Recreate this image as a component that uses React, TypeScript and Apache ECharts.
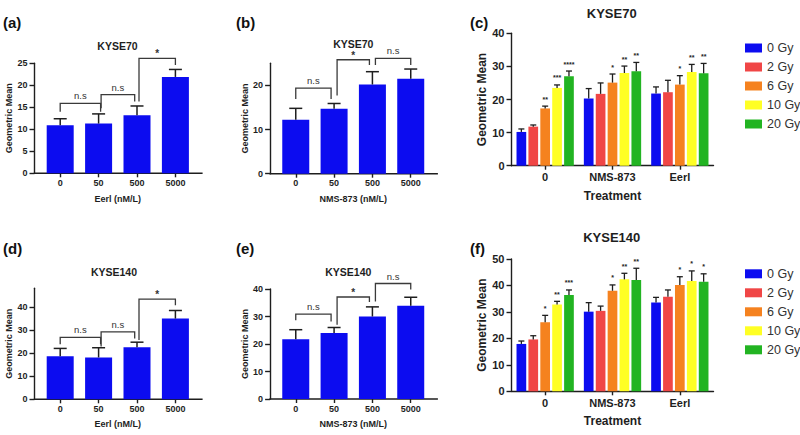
import React, { useEffect, useRef } from "react";
import * as echarts from "echarts";

// ---------- data ----------
const doseCats = ["0", "50", "500", "5000"];
const treatCats = ["0", "NMS-873", "Eerl"];
const doseNames = ["0 Gy", "2 Gy", "6 Gy", "10 Gy", "20 Gy"];

// (a) KYSE70, Eerl
const aMeans = [10.9, 11.3, 13.2, 21.9];
const aErrTops = [12.4, 13.5, 15.3, 23.6];
// brackets: [fromCat, toCat, topValue, leftLegBottom, rightLegBottom]
const aBrackets = [[0, 1, 15.9, 14.0, 14.0], [1, 2, 17.9, 14.8, 16.3], [2, 3, 26.1, 16.3, 24.6]];
const aSig = ["n.s", "n.s", "*"];

// (b) KYSE70, NMS-873
const bMeans = [12.2, 14.7, 20.2, 21.5];
const bErrTops = [14.8, 15.9, 23.1, 23.7];
const bBrackets = [[0, 1, 19.4, 16.9, 16.9], [1, 2, 25.8, 17.7, 24.6], [2, 3, 26.1, 24.6, 24.6]];
const bSig = ["n.s", "*", "n.s"];

// (d) KYSE140, Eerl
const dMeans = [18.6, 18.1, 22.5, 34.9];
const dErrTops = [22.0, 22.3, 24.7, 38.4];
const dBrackets = [[0, 1, 26.8, 23.8, 23.8], [1, 2, 29.2, 22.8, 26.3], [2, 3, 43.3, 25.6, 40.7]];
const dSig = ["n.s", "n.s", "*"];

// (e) KYSE140, NMS-873
const eMeans = [21.7, 24.0, 30.0, 33.9];
const eErrTops = [25.2, 26.0, 33.5, 37.0];
const eBrackets = [[0, 1, 30.9, 28.6, 28.2], [1, 2, 37.1, 27.0, 35.3], [2, 3, 42.0, 35.5, 39.8]];
const eSig = ["n.s", "*", "n.s"];

// (c) KYSE70 by dose (values per treatment: 0, NMS-873, Eerl)
const cMeans = [
  [10.2, 20.3, 21.8],
  [11.8, 21.7, 22.2],
  [17.3, 25.1, 24.5],
  [23.5, 28.0, 28.3],
  [27.0, 28.5, 27.9],
];
const cErrTops = [
  [11.1, 23.3, 23.8],
  [12.3, 25.0, 25.8],
  [18.0, 27.7, 27.2],
  [24.4, 30.1, 30.6],
  [28.6, 31.2, 30.9],
];
const cStars = [
  ["", "", ""],
  ["", "", ""],
  ["**", "*", "*"],
  ["***", "**", "**"],
  ["****", "**", "**"],
];

// (f) KYSE140 by dose
const fMeans = [
  [17.9, 30.1, 33.6],
  [19.6, 30.4, 35.7],
  [26.1, 38.0, 40.2],
  [32.8, 42.3, 41.7],
  [36.4, 42.1, 41.4],
];
const fErrTops = [
  [19.0, 33.5, 35.5],
  [21.0, 32.2, 38.3],
  [28.7, 40.2, 43.3],
  [34.0, 44.6, 45.5],
  [38.3, 46.5, 44.4],
];
const fStars = [
  ["", "", ""],
  ["", "", ""],
  ["*", "*", "*"],
  ["**", "**", "*"],
  ["***", "**", "*"],
];

const aTicks = [0, 5, 10, 15, 20, 25];
const bTicks = [0, 10, 20];
const dTicks = [0, 10, 20, 30, 40];
const eTicks = [0, 10, 20, 30, 40];
const cTicks = [0, 10, 20, 30, 40];
const fTicks = [0, 10, 20, 30, 40, 50];

// ---------- styles / layout ----------
const FONT = "'Liberation Sans', Arial, Helvetica, sans-serif";
const INK = "#1e1e1e";
const BRACKET = "#3a3a3a";
const BLUE = "#0c0cf0";
const DOSE_COLORS = ["#0c0cf0", "#f04646", "#f5821f", "#ffff24", "#22b422"];

// pixel shift of bracket legs (where two brackets meet over one bar)
const legShiftAE = [[0, 2], [2.5, -2.3], [2, 0]];
const legShiftBE = [[0, -3], [3, -3], [3, 0]];

type Single = {
  grid: any; cats: string[]; means: number[]; tops: number[]; brackets: number[][];
  sig: string[]; shifts: number[][]; yMax: number; ticks: number[]; xName: string;
  title: string; label: string; titlePos: number[]; labelPos: number[]; xNameGap: number;
};

const singles: Single[] = [
  { grid: { left: 41, top: 63.3, width: 153.6, height: 110 }, cats: doseCats, means: aMeans, tops: aErrTops,
    brackets: aBrackets, sig: aSig, shifts: legShiftAE, yMax: 25, ticks: aTicks, xName: "Eerl (nM/L)",
    title: "KYSE70", label: "(a)", titlePos: [117.5, 45.5], labelPos: [3, 22], xNameGap: 21 },
  { grid: { left: 276.6, top: 63.3, width: 153.3, height: 110.4 }, cats: doseCats, means: bMeans, tops: bErrTops,
    brackets: bBrackets, sig: bSig, shifts: legShiftBE, yMax: 25, ticks: bTicks, xName: "NMS-873 (nM/L)",
    title: "KYSE70", label: "(b)", titlePos: [353.3, 44], labelPos: [236, 22], xNameGap: 21 },
  { grid: { left: 41, top: 288.3, width: 153.6, height: 111 }, cats: doseCats, means: dMeans, tops: dErrTops,
    brackets: dBrackets, sig: dSig, shifts: legShiftAE, yMax: 48, ticks: dTicks, xName: "Eerl (nM/L)",
    title: "KYSE140", label: "(d)", titlePos: [114, 272.3], labelPos: [3, 248], xNameGap: 20.5 },
  { grid: { left: 276.6, top: 289, width: 153.3, height: 110 }, cats: doseCats, means: eMeans, tops: eErrTops,
    brackets: eBrackets, sig: eSig, shifts: legShiftBE, yMax: 40, ticks: eTicks, xName: "NMS-873 (nM/L)",
    title: "KYSE140", label: "(e)", titlePos: [348.3, 271.7], labelPos: [236, 248], xNameGap: 20 },
];

type Grouped = {
  grid: any; means: number[][]; tops: number[][]; stars: string[][]; yMax: number; ticks: number[];
  title: string; label: string; titlePos: number[]; labelPos: number[]; legendTop: number; xNameGap: number;
};

const groups: Grouped[] = [
  { grid: { left: 511.5, top: 33.3, width: 202, height: 132.4 }, means: cMeans, tops: cErrTops, stars: cStars,
    yMax: 40, ticks: cTicks, title: "KYSE70", label: "(c)", titlePos: [611.7, 13.3], labelPos: [470, 22],
    legendTop: 36.5, xNameGap: 24 },
  { grid: { left: 511.5, top: 259, width: 202, height: 132.3 }, means: fMeans, tops: fErrTops, stars: fStars,
    yMax: 50, ticks: fTicks, title: "KYSE140", label: "(f)", titlePos: [611.7, 237.3], labelPos: [470, 248],
    legendTop: 262.3, xNameGap: 23.5 },
];

const GBW = 9.7; // grouped bar width
const GGAP = 2.2; // gap between grouped bars

function yAxisCfg(idx: number, max: number, ticks: number[], offset: number, fs: number, nameFs: number, nameGap: number) {
  return {
    type: "value", gridIndex: idx, min: 0, max, offset,
    name: "Geometric Mean", nameLocation: "middle", nameGap,
    nameTextStyle: { fontFamily: FONT, fontWeight: "bold", fontSize: nameFs, color: INK },
    axisLine: { show: true, lineStyle: { color: INK, width: 1.4 } },
    axisTick: { show: true, length: 5, lineStyle: { color: INK, width: 1.4 }, customValues: ticks },
    axisLabel: { fontFamily: FONT, fontWeight: "bold", fontSize: fs, color: INK, margin: 7, customValues: ticks },
    splitLine: { show: false },
  };
}

function errorSeries(idx: number, means: number[], tops: number[], offsetPx: number, capW: number, lw: number, stars?: string[], starFs?: number) {
  return {
    type: "custom", xAxisIndex: idx, yAxisIndex: idx, z: 5, silent: true,
    data: means.map((m, i) => [i, m, tops[i]]),
    renderItem: (params: any, api: any) => {
      const base = api.coord([api.value(0), api.value(1)]);
      const top = api.coord([api.value(0), api.value(2)]);
      const x = base[0] + offsetPx;
      const st = { stroke: INK, lineWidth: lw };
      const children: any[] = [
        { type: "line", shape: { x1: x, y1: base[1], x2: x, y2: top[1] }, style: st },
        { type: "line", shape: { x1: x - capW / 2, y1: top[1], x2: x + capW / 2, y2: top[1] }, style: st },
      ];
      const s = stars ? stars[params.dataIndex] : "";
      if (s) {
        children.push({
          type: "text",
          style: { text: s, x, y: top[1] - 7, align: "center", verticalAlign: "middle",
            fontSize: starFs, fontWeight: "bold", fontFamily: FONT, fill: INK },
        });
      }
      return { type: "group", children };
    },
  };
}

function bracketSeries(idx: number, brackets: number[][], sig: string[], shifts: number[][]) {
  return {
    type: "custom", xAxisIndex: idx, yAxisIndex: idx, z: 6, silent: true,
    data: brackets,
    renderItem: (params: any, api: any) => {
      const i = params.dataIndex;
      const pTopL = api.coord([api.value(0), api.value(2)]);
      const pTopR = api.coord([api.value(1), api.value(2)]);
      const pL = api.coord([api.value(0), api.value(3)]);
      const pR = api.coord([api.value(1), api.value(4)]);
      const xL = pTopL[0] + shifts[i][0];
      const xR = pTopR[0] + shifts[i][1];
      const yT = pTopL[1];
      const label = sig[i];
      const isStar = label === "*";
      return {
        type: "group",
        children: [
          { type: "polyline", shape: { points: [[xL, pL[1]], [xL, yT], [xR, yT], [xR, pR[1]]] },
            style: { stroke: BRACKET, lineWidth: 1.3, fill: "none" } },
          { type: "text",
            style: { text: label, x: (xL + xR) / 2, y: yT - (isStar ? 4.5 : 7.5), align: "center", verticalAlign: "middle",
              fontSize: isStar ? 10 : 9.5, fontWeight: isStar ? "bold" : "normal", fontFamily: FONT, fill: "#333" } },
        ],
      };
    },
  };
}

export default function App() {
  const ref = useRef<HTMLDivElement>(null);
  useEffect(() => {
    if (!ref.current) return;
    const chart = echarts.init(ref.current, null, { renderer: "svg" });
    const grid: any[] = [];
    const xAxis: any[] = [];
    const yAxis: any[] = [];
    const series: any[] = [];
    const graphic: any[] = [];
    const legend: any[] = [];
    const Y_OFF = 6.5;

    singles.forEach((p, idx) => {
      grid.push({ ...p.grid, containLabel: false });
      xAxis.push({
        type: "category", gridIndex: idx, data: p.cats,
        name: p.xName, nameLocation: "middle", nameGap: p.xNameGap,
        nameTextStyle: { fontFamily: FONT, fontWeight: "bold", fontSize: 9, color: INK },
        axisLine: { show: false },
        axisTick: { show: true, alignWithLabel: true, length: 4, lineStyle: { color: INK, width: 1.4 } },
        axisLabel: { fontFamily: FONT, fontWeight: "bold", fontSize: 9, color: INK, margin: 5 },
      });
      yAxis.push(yAxisCfg(idx, p.yMax, p.ticks, Y_OFF, 9, 9, 15));
      series.push({
        type: "bar", xAxisIndex: idx, yAxisIndex: idx, data: p.means, barWidth: 27,
        itemStyle: { color: BLUE }, silent: true,
      });
      series.push(errorSeries(idx, p.means, p.tops, 0, 13, 1.5));
      series.push(bracketSeries(idx, p.brackets, p.sig, p.shifts));
      const g = p.grid;
      const yb = g.top + g.height;
      graphic.push({ type: "line", shape: { x1: g.left - Y_OFF - 0.7, y1: yb, x2: g.left + g.width + 8, y2: yb },
        style: { stroke: INK, lineWidth: 1.4 } });
      graphic.push({ type: "text", x: p.titlePos[0], y: p.titlePos[1],
        style: { text: p.title, align: "center", verticalAlign: "middle", fontSize: 10.5, fontWeight: "bold", fontFamily: FONT, fill: INK } });
      graphic.push({ type: "text", x: p.labelPos[0], y: p.labelPos[1],
        style: { text: p.label, align: "left", verticalAlign: "middle", fontSize: 15, fontWeight: "bold", fontFamily: FONT, fill: "#111" } });
    });

    groups.forEach((p, k) => {
      const idx = singles.length + k;
      grid.push({ ...p.grid, containLabel: false });
      xAxis.push({
        type: "category", gridIndex: idx, data: treatCats,
        name: "Treatment", nameLocation: "middle", nameGap: p.xNameGap,
        nameTextStyle: { fontFamily: FONT, fontWeight: "bold", fontSize: 12, color: INK },
        axisLine: { show: true, lineStyle: { color: INK, width: 1.4 } },
        axisTick: { show: true, alignWithLabel: true, length: 4, lineStyle: { color: INK, width: 1.4 } },
        axisLabel: { fontFamily: FONT, fontWeight: "bold", fontSize: 11, color: INK, margin: 6 },
      });
      yAxis.push(yAxisCfg(idx, p.yMax, p.ticks, 0, 11, 12, 20));
      doseNames.forEach((name, s) => {
        series.push({
          type: "bar", name, xAxisIndex: idx, yAxisIndex: idx, data: p.means[s], barWidth: GBW,
          barGap: (GGAP / GBW) * 100 + "%", itemStyle: { color: DOSE_COLORS[s] }, silent: true,
        });
      });
      doseNames.forEach((name, s) => {
        series.push(errorSeries(idx, p.means[s], p.tops[s], (s - 2) * (GBW + GGAP), 6, 1.3, p.stars[s], 7));
      });
      legend.push({
        orient: "vertical", left: 740, top: p.legendTop, data: doseNames, icon: "rect",
        itemWidth: 17, itemHeight: 9, itemGap: 6, selectedMode: false,
        textStyle: { fontFamily: FONT, fontSize: 12.5, lineHeight: 12, color: "#333" },
      });
      graphic.push({ type: "text", x: p.titlePos[0], y: p.titlePos[1],
        style: { text: p.title, align: "center", verticalAlign: "middle", fontSize: 13, fontWeight: "bold", fontFamily: FONT, fill: INK } });
      graphic.push({ type: "text", x: p.labelPos[0], y: p.labelPos[1],
        style: { text: p.label, align: "left", verticalAlign: "middle", fontSize: 15, fontWeight: "bold", fontFamily: FONT, fill: "#111" } });
    });

    chart.setOption({
      animation: false,
      backgroundColor: "#ffffff",
      textStyle: { fontFamily: FONT },
      grid, xAxis, yAxis, series, legend, graphic,
    });
    return () => chart.dispose();
  }, []);
  return (
    <div
      ref={ref}
      style={{ position: "absolute", left: 0, top: 0, width: 800, height: 435, background: "#fff" }}
    />
  );
}
